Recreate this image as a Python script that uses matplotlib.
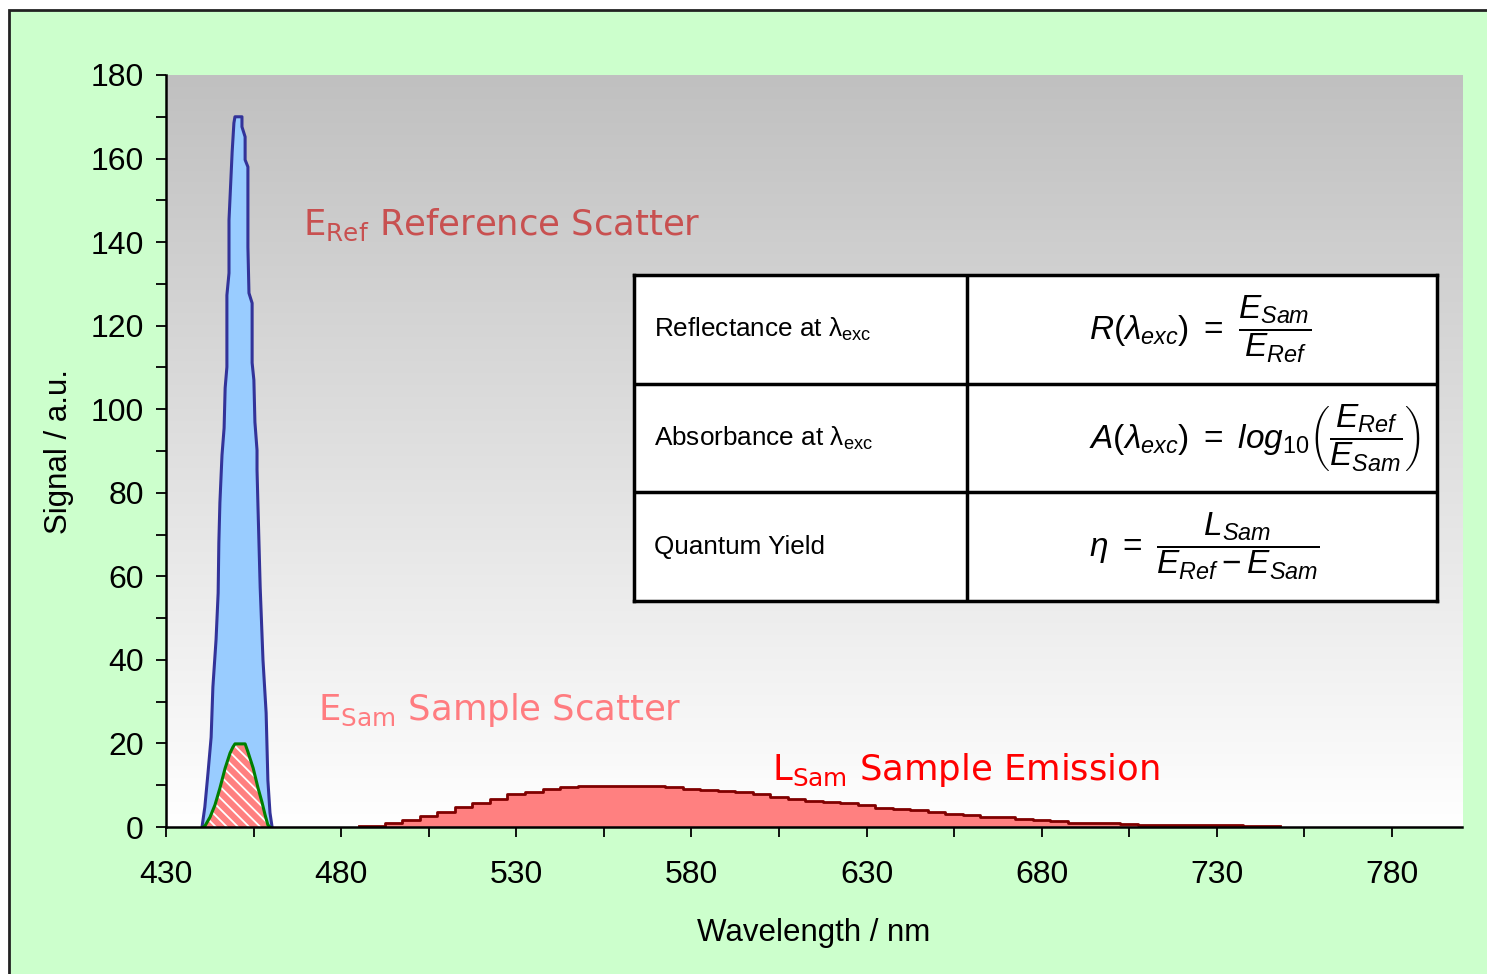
import numpy as np
import matplotlib
matplotlib.use("Agg")
import matplotlib.pyplot as plt
from matplotlib.patches import Rectangle

plt.rcParams['font.family'] = ['Liberation Sans', 'DejaVu Sans']
plt.rcParams['mathtext.fontset'] = 'custom'
plt.rcParams['mathtext.rm'] = 'Liberation Sans'
plt.rcParams['mathtext.it'] = 'Liberation Sans:italic'
plt.rcParams['hatch.color'] = 'white'
plt.rcParams['hatch.linewidth'] = 1.3

# reference scatter (E_Ref), outline
ref_wl = [440.3, 441.1, 442.0, 442.9, 443.4, 444.3, 444.9, 445.1, 445.4, 446.0, 446.6,
          446.9, 447.4, 447.4, 448.0, 448.0, 448.9, 449.4, 449.7, 451.7, 451.7, 452.6,
          452.6, 453.4, 453.4, 453.7, 454.6, 454.6, 455.1, 455.4, 456.0, 456.0, 456.3,
          456.9, 457.7, 458.6, 459.1, 459.7, 460.3]
ref_sig = [0, 4.8, 12.9, 21.5, 33.5, 44.8, 56.0, 68.0, 77.6, 89.0, 95.5,
           105.1, 110.1, 127.3, 132.6, 145.3, 161.6, 168.5, 170.0, 170.0, 167.6, 165.2,
           159.7, 158.0, 138.8, 127.8, 125.4, 111.1, 107.0, 96.9, 90.2, 85.5, 75.9,
           57.4, 40.0, 27.3, 11.2, 3.4, 0]

# sample scatter (E_Sam)
sam_wl = [440.6, 441.1, 442.6, 444.0, 445.4, 446.9, 448.3, 449.1, 449.7, 452.6, 453.4,
          454.9, 456.3, 457.4, 458.3, 459.1, 459.7]
sam_sig = [0, 0.2, 2.4, 5.3, 9.3, 14.1, 17.7, 19.1, 19.9, 19.9, 18.0,
           14.1, 9.3, 6.0, 2.9, 0.5, 0]

# sample emission (L_Sam)
em_wl = [485, 490, 495, 500, 505, 510, 515, 520, 525, 530, 535, 540, 545, 550, 555, 560,
         565, 570, 575, 580, 585, 590, 595, 600, 605, 610, 615, 620, 625, 630, 635, 640,
         645, 650, 655, 660, 665, 670, 675, 680, 685, 690, 695, 700, 705, 710, 715, 720,
         725, 730, 735, 740, 745, 748]
em_sig = [0.3, 0.3, 0.9, 1.6, 2.6, 3.6, 4.8, 5.8, 6.8, 7.8, 8.5, 9.2, 9.6, 9.8, 9.9, 9.9,
          9.9, 9.8, 9.6, 9.0, 8.8, 8.6, 8.3, 7.9, 7.3, 6.8, 6.3, 6.1, 5.7, 5.3, 4.6, 4.3,
          4.0, 3.5, 3.2, 2.9, 2.5, 2.3, 1.9, 1.7, 1.4, 1.0, 1.0, 0.9, 0.7, 0.5, 0.5, 0.5,
          0.5, 0.4, 0.4, 0.3, 0.3, 0.2]

row_names = ['Reflectance at λ$_{\\mathregular{exc}}$',
             'Absorbance at λ$_{\\mathregular{exc}}$',
             'Quantum Yield']
row_formulas = [r'$R(\lambda_{exc})\ =\ \dfrac{E_{Sam}}{E_{Ref}}$',
                r'$A(\lambda_{exc})\ =\ log_{10}\left(\dfrac{E_{Ref}}{E_{Sam}}\right)$',
                r'$\eta\ =\ \dfrac{L_{Sam}}{E_{Ref}-E_{Sam}}$']

fig = plt.figure(figsize=(14.87, 9.74), dpi=100)
fig.patches.append(Rectangle((0.006, -0.05), 1.1, 1.0397, transform=fig.transFigure,
                             facecolor='#CCFFCC', edgecolor='#222222', linewidth=2, zorder=-10))

ax = fig.add_axes([0.1116, 0.1509, 0.8716, 0.7721])
ax.set_facecolor('none')
grad = np.linspace(0.753, 1.0, 256)[:, None, None] * np.ones((1, 2, 3))
ax.imshow(grad, extent=[430, 800, 0, 180], aspect='auto', zorder=0, interpolation='bilinear')

ax.fill_between(ref_wl, ref_sig, color='#99CCFF', linewidth=0, zorder=2)
ax.plot(ref_wl, ref_sig, color='#333399', linewidth=2.2, zorder=3)
ax.fill_between(sam_wl, sam_sig, color='#FF8080', linewidth=0, zorder=4)
ax.fill_between(sam_wl, sam_sig, facecolor='none', edgecolor='white', hatch='\\\\\\',
                linewidth=0, zorder=4.5)
ax.plot(sam_wl, sam_sig, color='#008000', linewidth=2.2, zorder=5)
ax.fill_between(em_wl, em_sig, step='mid', color='#FF8080', linewidth=0, zorder=2)
ax.plot(em_wl, em_sig, drawstyle='steps-mid', color='#800000', linewidth=2, zorder=3)

ax.set_xlim(430, 800)
ax.set_ylim(0, 180)
ax.set_xticks(range(430, 781, 50))
ax.set_xticks(range(455, 800, 50), minor=True)
ax.set_yticks(range(0, 181, 20))
ax.set_yticks(range(10, 180, 20), minor=True)
ax.tick_params(which='both', direction='out', length=7, width=1.3, labelsize=23)
ax.tick_params(axis='y', pad=9)
ax.tick_params(axis='x', pad=17)
for s in ['top', 'right']:
    ax.spines[s].set_visible(False)
for s in ['left', 'bottom']:
    ax.spines[s].set_linewidth(1.8)
    ax.spines[s].set_zorder(6)
ax.set_xlabel('Wavelength / nm', fontsize=22.5, labelpad=20)
ax.set_ylabel('Signal / a.u.', fontsize=22.5, labelpad=12)

ax.text(469.1, 141.7, r'$\mathregular{E_{Ref}}$ Reference Scatter', color='#C85050',
        fontsize=25.5, family='DejaVu Sans', va='baseline', zorder=7)
ax.text(473.4, 25.6, r'$\mathregular{E_{Sam}}$ Sample Scatter', color='#FF7C80',
        fontsize=25.5, family='DejaVu Sans', va='baseline', zorder=7)
ax.text(603.1, 11.3, r'$\mathregular{L_{Sam}}$ Sample Emission', color='#FF0000',
        fontsize=25.5, family='DejaVu Sans', va='baseline', zorder=7)

tab = fig.add_axes([0.4264, 0.3830, 0.5400, 0.3347])
tab.set_facecolor('white')
tab.set_xlim(0, 1)
tab.set_ylim(0, 1)
tab.set_xticks([])
tab.set_yticks([])
for s in tab.spines.values():
    s.set_linewidth(2.5)
tab.axvline(0.4147, color='black', linewidth=2.5)
tab.axhline(1 / 3, color='black', linewidth=2.5)
tab.axhline(2 / 3, color='black', linewidth=2.5)
for i in range(3):
    yc = 1 - (i + 0.5) / 3
    tab.text(0.025, yc, row_names[i], fontsize=18.8, va='center', ha='left')
    tab.text(0.567, yc, row_formulas[i], fontsize=24, va='center', ha='left')

fig.savefig('out.png', dpi=100)
